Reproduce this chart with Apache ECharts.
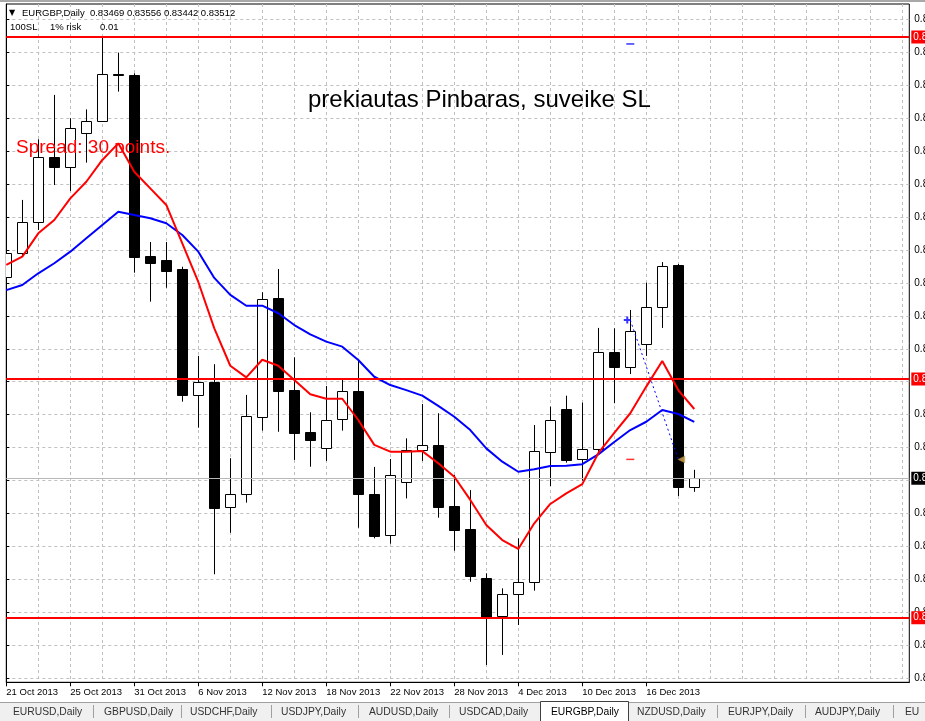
<!DOCTYPE html>
<html><head><meta charset="utf-8">
<script src="https://cdn.jsdelivr.net/npm/echarts@6/dist/echarts.min.js"></script>
<style>html,body{margin:0;padding:0;background:#fff;overflow:hidden}#c{width:925px;height:721px}</style>
</head><body><div id="c"></div>
<script>
// ---- data ----
const symbolName = 'EURGBP,Daily';
const dateLabels = ['21 Oct 2013','25 Oct 2013','31 Oct 2013','6 Nov 2013','12 Nov 2013','18 Nov 2013','22 Nov 2013','28 Nov 2013','4 Dec 2013','10 Dec 2013','16 Dec 2013'];
const opens  = [0.84553,0.84678,0.84838,0.85176,0.85126,0.85299,0.85361,0.85605,0.85601,0.84664,0.84643,0.84596,0.83945,0.84009,0.83362,0.83429,0.83828,0.84444,0.83969,0.83752,0.83667,0.83818,0.83964,0.83429,0.83217,0.83491,0.83657,0.83683,0.83369,0.83248,0.82994,0.82800,0.82911,0.82973,0.83647,0.83871,0.83610,0.83662,0.84165,0.84090,0.84209,0.84401,0.84618,0.83469];
const highs  = [0.84716,0.84954,0.85268,0.85498,0.85377,0.85423,0.85793,0.85717,0.85610,0.84736,0.84736,0.84608,0.84146,0.84103,0.83616,0.83944,0.84476,0.84596,0.84139,0.83854,0.83990,0.84025,0.84120,0.83571,0.83612,0.83719,0.83897,0.83849,0.83529,0.83451,0.83020,0.82942,0.83201,0.83788,0.83883,0.83940,0.83904,0.84291,0.84289,0.84384,0.84525,0.84632,0.84622,0.83556];
const lows   = [0.84529,0.84664,0.84798,0.85031,0.85000,0.85147,0.85358,0.85515,0.84577,0.84427,0.84499,0.83909,0.83774,0.83015,0.83230,0.83386,0.83759,0.83753,0.83607,0.83572,0.83602,0.83759,0.83256,0.83201,0.83173,0.83408,0.83602,0.83308,0.83137,0.82976,0.82545,0.82597,0.82752,0.82930,0.83472,0.83593,0.83500,0.83642,0.83901,0.84052,0.84146,0.84291,0.83420,0.83442];
const closes = [0.84678,0.84838,0.85176,0.85126,0.85325,0.85361,0.85606,0.85603,0.84660,0.84626,0.84587,0.83944,0.84009,0.83357,0.83429,0.83833,0.84439,0.83966,0.83748,0.83712,0.83812,0.83963,0.83429,0.83215,0.83528,0.83659,0.83683,0.83365,0.83246,0.83007,0.82792,0.82911,0.82973,0.83653,0.83812,0.83607,0.83662,0.84165,0.84090,0.84275,0.84398,0.84612,0.83469,0.83512];
const maFast = [0.84617,0.84660,0.84781,0.84850,0.84962,0.85048,0.85161,0.85247,0.85100,0.85014,0.84928,0.84729,0.84529,0.84289,0.84095,0.84035,0.84126,0.84095,0.84021,0.83947,0.83924,0.83924,0.83814,0.83685,0.83650,0.83650,0.83653,0.83590,0.83520,0.83400,0.83270,0.83192,0.83146,0.83279,0.83379,0.83434,0.83482,0.83642,0.83747,0.83849,0.83987,0.84120,0.83969,0.83871];
const maSlow = [0.84487,0.84513,0.84574,0.84626,0.84686,0.84755,0.84824,0.84893,0.84876,0.84859,0.84833,0.84772,0.84686,0.84550,0.84462,0.84406,0.84406,0.84367,0.84306,0.84258,0.84220,0.84194,0.84125,0.84038,0.83995,0.83969,0.83940,0.83887,0.83831,0.83762,0.83667,0.83598,0.83546,0.83559,0.83576,0.83577,0.83585,0.83636,0.83700,0.83762,0.83805,0.83866,0.83845,0.83804];
const levelLines = [0.85798, 0.84026, 0.82790];
const lastPrice = 0.83512;
const tradeBars = [39, 42];
const tradePrices = [0.84332, 0.83610];
const takeProfit = 0.85762;
const stopLoss = 0.83610;
const infoLine = ['100SL', '1% risk', '0.01'];
const comment = 'prekiautas Pinbaras, suveike SL';
const spreadText = 'Spread: 30 points.';
const tabs = ['EURUSD,Daily','GBPUSD,Daily','USDCHF,Daily','USDJPY,Daily','AUDUSD,Daily','USDCAD,Daily','EURGBP,Daily','NZDUSD,Daily','EURJPY,Daily','AUDJPY,Daily','EU'];
const activeTab = 6;

// ---- layout ----
const FONT = '"Liberation Sans", Arial, sans-serif';
const priceMin = 0.824553, priceMax = 0.859689;
const xMax = 56.44;
const plotTop = 4, plotBottomY = 682.3, gridBottomY = 678.3, gridStep = 32.95;
const hgMax = (gridBottomY - plotTop) / gridStep;
function priceAtTick(v) {
  const y = gridBottomY - gridStep * v;
  return priceMax - (y - plotTop) * (priceMax - priceMin) / (plotBottomY - plotTop);
}

const candleData = opens.map((o, i) => [i, o, closes[i], lows[i], highs[i]]);

function renderCandle(params, api) {
  const i = api.value(0), o = api.value(1), c = api.value(2), l = api.value(3), h = api.value(4);
  const pO = api.coord([i, o]), pC = api.coord([i, c]), pL = api.coord([i, l]), pH = api.coord([i, h]);
  const w = Math.round(api.size([1, 0])[0] * 0.6);
  const x = Math.round(pO[0]) + 0.5;
  const top = Math.round(Math.min(pO[1], pC[1])) + 0.5;
  const bot = Math.round(Math.max(pO[1], pC[1])) + 0.5;
  const bull = c >= o;
  return {
    type: 'group',
    children: [
      { type: 'line', shape: { x1: x, y1: pH[1], x2: x, y2: pL[1] }, style: { stroke: '#000', lineWidth: 1 } },
      { type: 'rect', shape: { x: x - w / 2, y: top, width: w, height: Math.max(bot - top, 1) },
        style: { fill: bull ? '#fff' : '#000', stroke: '#000', lineWidth: 1 } }
    ]
  };
}

const lineLabel = (bg) => ({
  show: true, position: 'end', distance: 2,
  formatter: p => Number(p.value).toFixed(5),
  color: '#fff', backgroundColor: bg, padding: [2, 2, 1, 2],
  fontSize: 10, fontFamily: FONT
});

const tabX = [13, 104, 190, 281, 369, 459, 551, 637, 728, 815, 905];
const sepX = [93, 181, 271, 358, 449, 717, 805, 893];

const graphics = [
  { type: 'rect', shape: { x: 0, y: 0, width: 925, height: 2 }, style: { fill: '#a8a8a8' }, z: 100 },
  { type: 'text', style: { x: 9, y: 13, text: '▼', fontSize: 8, fill: '#000', verticalAlign: 'middle', fontFamily: 'DejaVu Sans' }, z: 100 },
  { type: 'text', style: { x: 22, y: 13, text: symbolName + '  ' + [opens[43], highs[43], lows[43], closes[43]].map(v => v.toFixed(5)).join(' '),
      fontSize: 9.5, fill: '#000', verticalAlign: 'middle', fontFamily: FONT }, z: 100 },
  { type: 'text', style: { x: 10, y: 27, text: infoLine[0], fontSize: 9.5, fill: '#000', verticalAlign: 'middle', fontFamily: FONT }, z: 100 },
  { type: 'text', style: { x: 50, y: 27, text: infoLine[1], fontSize: 9.5, fill: '#000', verticalAlign: 'middle', fontFamily: FONT }, z: 100 },
  { type: 'text', style: { x: 100, y: 27, text: infoLine[2], fontSize: 9.5, fill: '#000', verticalAlign: 'middle', fontFamily: FONT }, z: 100 },
  { type: 'text', style: { x: 308, y: 100, text: comment, fontSize: 24, fill: '#000', verticalAlign: 'middle', fontFamily: FONT }, z: 100 },
  { type: 'text', style: { x: 16, y: 148, text: spreadText, fontSize: 19, fill: '#ff0000', verticalAlign: 'middle', fontFamily: FONT }, z: 100 },
  { type: 'rect', shape: { x: 0, y: 702, width: 925, height: 19 }, style: { fill: '#f0f0f0' }, z: 100 },
  { type: 'rect', shape: { x: 0, y: 702, width: 925, height: 1 }, style: { fill: '#a0a0a0' }, z: 100 },
  { type: 'rect', shape: { x: 540.5, y: 701.5, width: 88, height: 21 }, style: { fill: '#fff', stroke: '#404040', lineWidth: 1 }, z: 101 }
];
sepX.forEach(x => graphics.push({ type: 'rect', shape: { x: x, y: 705, width: 1, height: 13 }, style: { fill: '#a0a0a0' }, z: 101 }));
tabs.forEach((t, i) => graphics.push({ type: 'text', style: { x: tabX[i], y: 712, text: t, fontSize: 10.3, fill: i === activeTab ? '#000' : '#333', verticalAlign: 'middle', fontFamily: FONT }, z: 102 }));

const option = {
  animation: false,
  backgroundColor: '#fff',
  textStyle: { fontFamily: FONT },
  grid: [
    { left: 6.3, right: 15.7, top: plotTop, bottom: 721 - plotBottomY, show: true, borderColor: '#000', borderWidth: 1,
      backgroundColor: 'transparent', containLabel: false, outerBoundsMode: 'none' },
    { left: 6.3, right: 15.7, top: plotTop, bottom: 721 - gridBottomY, containLabel: false, outerBoundsMode: 'none' }
  ],
  xAxis: [
    { gridIndex: 0, type: 'value', min: 0, max: xMax, interval: 2,
      axisLine: { show: false }, axisTick: { show: false }, axisLabel: { show: false },
      splitLine: { show: true, showMinLine: false, showMaxLine: false, lineStyle: { color: '#c0c0c0', type: [3, 3], width: 1 } } },
    { gridIndex: 0, type: 'value', min: 0, max: xMax, interval: 4, position: 'bottom',
      axisLine: { show: true, lineStyle: { color: '#000', width: 1 } },
      axisTick: { show: true, length: 4, lineStyle: { color: '#000' }, customValues: dateLabels.map((d, k) => k * 4) },
      splitLine: { show: false },
      axisLabel: { show: true, align: 'left', margin: 5, fontSize: 9.5, color: '#000', fontFamily: FONT,
        customValues: dateLabels.map((d, k) => k * 4),
        formatter: v => (Math.abs(v % 4) < 1e-9 && dateLabels[Math.round(v / 4)]) ? dateLabels[Math.round(v / 4)] : '' } },
    { gridIndex: 1, type: 'value', min: 0, max: xMax, show: false }
  ],
  yAxis: [
    { gridIndex: 0, type: 'value', min: priceMin, max: priceMax, position: 'right',
      axisLine: { show: true, lineStyle: { color: '#000', width: 1 } }, axisTick: { show: false },
      axisLabel: { show: false }, splitLine: { show: false } },
    { gridIndex: 1, type: 'value', min: 0, max: hgMax, interval: 1, position: 'right',
      axisLine: { show: false },
      axisTick: { show: true, length: 3, lineStyle: { color: '#000' } },
      axisLabel: { show: true, margin: 5, fontSize: 10, color: '#000', fontFamily: FONT, showMaxLabel: false,
        formatter: v => priceAtTick(v).toFixed(5) },
      splitLine: { show: true, showMaxLine: false, lineStyle: { color: '#c0c0c0', type: [3, 3], width: 1 } } }
  ],
  series: [
    { type: 'custom', name: 'candles', xAxisIndex: 0, yAxisIndex: 0, renderItem: renderCandle,
      data: candleData, encode: { x: 0, y: [1, 2, 3, 4] }, clip: true, z: 3 },
    { type: 'line', name: 'slow', xAxisIndex: 0, yAxisIndex: 0, data: maSlow.map((v, i) => [i, v]),
      symbol: 'none', lineStyle: { color: '#0000ff', width: 2 }, z: 4 },
    { type: 'line', name: 'fast', xAxisIndex: 0, yAxisIndex: 0, data: maFast.map((v, i) => [i, v]),
      symbol: 'none', lineStyle: { color: '#ff0000', width: 2 }, z: 5,
      markLine: {
        silent: true, symbol: ['none', 'none'], animation: false, precision: 5,
        data: levelLines.map(v => ({ yAxis: v, lineStyle: { color: '#ff0000', width: 2, type: 'solid' }, label: lineLabel('#ff0000') }))
          .concat([{ yAxis: lastPrice, lineStyle: { color: '#b8b8b8', width: 1, type: 'solid' }, label: lineLabel('#000') }])
      } },
    { type: 'line', name: 'trade', xAxisIndex: 0, yAxisIndex: 0, data: tradeBars.map((b, k) => [b, tradePrices[k]]),
      symbol: 'none', lineStyle: { color: '#0000ff', width: 1, type: [2, 3] }, z: 6 },
    { type: 'scatter', name: 'open', xAxisIndex: 0, yAxisIndex: 0, data: [[tradeBars[0], tradePrices[0]]],
      symbol: 'path://M0,2.5H2.5V0H4.5V2.5H7V4.5H4.5V7H2.5V4.5H0Z', symbolSize: 7, symbolOffset: [-3, 0], itemStyle: { color: '#0000ff' }, z: 7 },
    { type: 'scatter', name: 'tp', xAxisIndex: 0, yAxisIndex: 0, data: [[tradeBars[0], takeProfit]],
      symbol: 'rect', symbolSize: [8, 1.5], itemStyle: { color: '#0000ff' }, z: 7 },
    { type: 'scatter', name: 'sl', xAxisIndex: 0, yAxisIndex: 0, data: [[tradeBars[0], stopLoss]],
      symbol: 'rect', symbolSize: [8, 1.5], itemStyle: { color: '#ff0000' }, z: 7 },
    { type: 'scatter', name: 'close', xAxisIndex: 0, yAxisIndex: 0, data: [[tradeBars[1], tradePrices[1]]],
      symbol: 'triangle', symbolRotate: 90, symbolSize: [7, 7], symbolOffset: [3, 0],
      itemStyle: { color: '#d8a848', borderColor: '#8a6a20', borderWidth: 0.5 }, z: 8 }
  ],
  graphic: graphics
};

const chart = echarts.init(document.getElementById('c'), null, { renderer: 'canvas' });
chart.setOption(option);
</script>
</body></html>
